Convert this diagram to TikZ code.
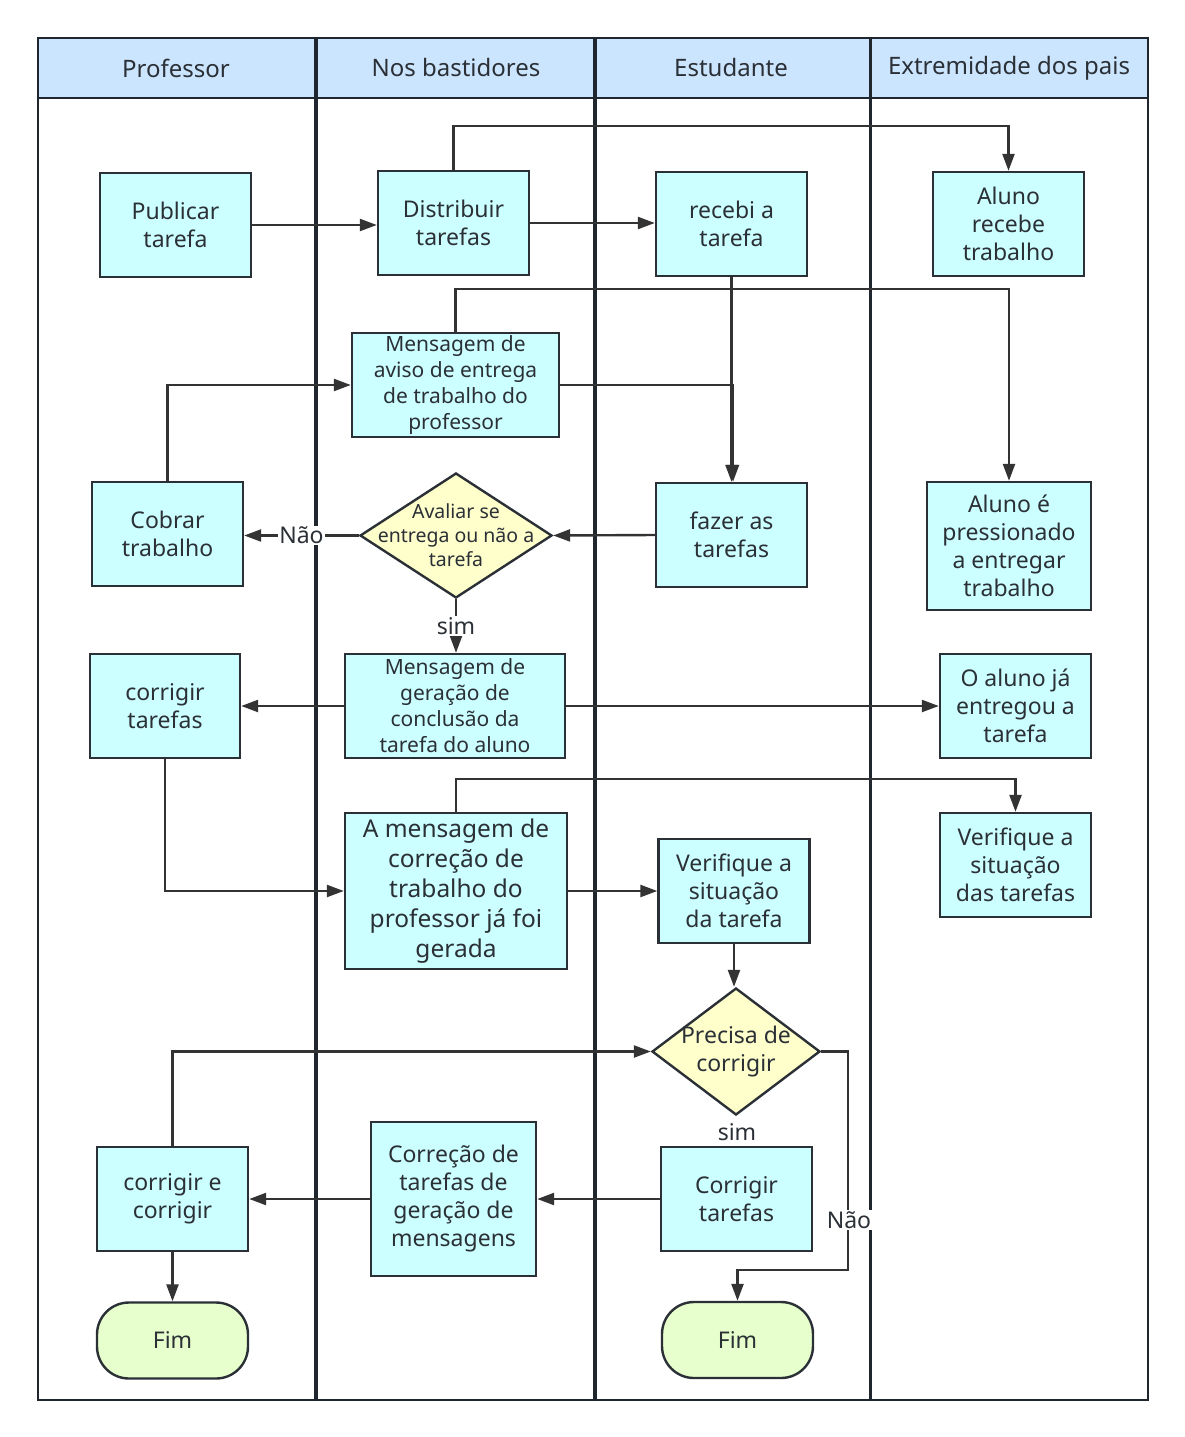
\documentclass[tikz,border=0pt]{standalone}
\usepackage{fontspec}
\setmainfont{Noto Sans}
\usetikzlibrary{arrows.meta,shapes.geometric}
\definecolor{boxfill}{HTML}{CCFFFF}
\definecolor{dfill}{HTML}{FFFFCC}
\definecolor{endfill}{HTML}{E6FFCC}
\definecolor{headfill}{HTML}{CCE5FF}
\definecolor{ink}{HTML}{2B3036}
\definecolor{wire}{HTML}{333333}
\definecolor{lanec}{HTML}{1F262D}
\begin{document}
\begin{tikzpicture}[x=1pt,y=-1pt,
  box/.style={draw=ink,fill=boxfill,line width=2.4pt,align=center,inner sep=0pt,
    minimum width=151pt,minimum height=104pt,text=ink,font=\fontsize{23}{28}\selectfont},
  dia/.style={draw=ink,fill=dfill,line width=2.4pt,shape=diamond,inner sep=0pt,aspect=1.5},
  fin/.style={draw=ink,fill=endfill,line width=2.4pt,rectangle,rounded corners=32pt,
    minimum width=151pt,minimum height=76pt,inner sep=0pt,text=ink,font=\fontsize{23}{28}\selectfont},
  arr/.style={draw=wire,line width=2.4pt,-{Triangle[length=17pt,width=12pt]}},
  elab/.style={fill=white,inner sep=1pt,text=ink,font=\fontsize{23}{26}\selectfont},
  lanehead/.style={text=ink,font=\fontsize{24}{26}\selectfont}
]
\useasboundingbox (0,0) rectangle (1185,1437);
\fill[white] (0,0) rectangle (1185,1437);
% swimlanes
\fill[headfill] (38,38) rectangle (1148,98);
\draw[lanec,line width=2.6pt] (38,38) rectangle (1148,1400);
\draw[lanec,line width=2.6pt] (38,98) -- (1148,98);
\draw[lanec,line width=4.5pt] (316,38) -- (316,1400);
\draw[lanec,line width=4.5pt] (595,38) -- (595,1400);
\draw[lanec,line width=3pt] (870,38) -- (870,1400);
\node[lanehead] (h1) at (176,68) {Professor};
\node[lanehead] (h2) at (456,68) {Nos bastidores};
\node[lanehead] (h3) at (731,68) {Estudante};
\node[lanehead] (h4) at (1009,68) {Extremidade dos pais};

% nodes
\node[box] (pub) at (175.5,225) {Publicar\\tarefa};
\node[box] (dist) at (453.5,223) {Distribuir\\tarefas};
\node[box] (rec) at (731.5,224) {recebi a\\tarefa};
\node[box] (alr) at (1008.5,224) {Aluno\\recebe\\trabalho};
\node[box,minimum width=207pt,font=\fontsize{21}{26}\selectfont] (aviso) at (455.5,385) {Mensagem de\\aviso de entrega\\de trabalho do\\professor};
\node[box] (cob) at (167.5,534) {Cobrar\\trabalho};
\node[dia,minimum width=192pt,minimum height=125pt] (aval) at (456,535.5) {};
\node[align=center,text=ink,font=\fontsize{19.5}{24}\selectfont] (avalt) at (456,535.5) {Avaliar se\\entrega ou não a\\tarefa};
\node[box] (faz) at (731.5,535) {fazer as\\tarefas};
\node[box,minimum width=164pt,minimum height=128pt] (press) at (1009,546) {Aluno é\\pressionado\\a entregar\\trabalho};
\node[box,minimum width=150pt] (corr) at (165,706) {corrigir\\tarefas};
\node[box,minimum width=220pt,font=\fontsize{21}{26}\selectfont] (ger) at (455,706) {Mensagem de\\geração de\\conclusão da\\tarefa do aluno};
\node[box] (ja) at (1015.5,706) {O aluno já\\entregou a\\tarefa};
\node[box,minimum width=222pt,minimum height=156pt,font=\fontsize{24.5}{30}\selectfont] (amsg) at (456,891) {A mensagem de\\correção de\\trabalho do\\professor já foi\\gerada};
\node[box] (verif) at (734,891) {Verifique a\\situação\\da tarefa};
\node[box] (verifs) at (1015.5,865) {Verifique a\\situação\\das tarefas};
\node[dia,minimum width=168pt,minimum height=127pt] (prec) at (736,1051.5) {};
\node[align=center,text=ink,font=\fontsize{23}{28}\selectfont] (prect) at (736,1052) {Precisa de\\corrigir};
\node[box] (cc) at (172.5,1199) {corrigir e\\corrigir};
\node[box,minimum width=165pt,minimum height=154pt] (correcao) at (453.5,1199) {Correção de\\tarefas de\\geração de\\mensagens};
\node[box] (corrt) at (736.5,1199) {Corrigir\\tarefas};
\node[fin] (fim1) at (172.5,1340.5) {Fim};
\node[fin] (fim2) at (737.5,1340) {Fim};

% helper coordinates
\coordinate (y126) at (0,126);
\coordinate (y289) at (0,289);
\coordinate (y779) at (0,779);
\coordinate (c1) at (848,1270);

% connectors
\draw[arr] (pub.east) -- (pub.east -| dist.west);
\draw[arr] (dist.east) -- (dist.east -| rec.west);
\draw[arr] (dist.north) -- (dist.north |- y126) -| (alr.north);
\draw[arr] (rec.south) -- (faz.north);
\draw[arr] (aviso.east) -| ([xshift=1.5pt]faz.north);
\draw[arr] (aviso.north) -- (aviso.north |- y289) -| (press.north);
\draw[arr] (cob.north) |- (aviso.west);
\draw[arr] (faz.west) -- (aval.east);
\draw[arr] (aval.west) -- (aval.west -| cob.east) node[elab,pos=0.5] (nao1) {Não};
\draw[arr] (aval.south) -- (aval.south |- ger.north) node[elab,pos=0.5] (sim1) {sim};
\draw[arr] (ger.west) -- (ger.west -| corr.east);
\draw[arr] (ger.east) -- (ger.east -| ja.west);
\draw[arr] (amsg.north) -- (amsg.north |- y779) -| (verifs.north);
\draw[arr] (corr.south) |- (amsg.west);
\draw[arr] (amsg.east) -- (amsg.east -| verif.west);
\draw[arr] (verif.south) -- (verif.south |- prec.north);
\draw[arr] (cc.north) |- (prec.west);
\draw[arr] (prec.east) -| (c1) -| (fim2.north);
\node[elab] (nao2) at (849,1220) {Não};
\node[elab] (sim2) at (737,1132) {sim};
\draw[arr] (corrt.west) -- (corrt.west -| correcao.east);
\draw[arr] (correcao.west) -- (correcao.west -| cc.east);
\draw[arr] (cc.south) -- (fim1.north);
\end{tikzpicture}
\end{document}
